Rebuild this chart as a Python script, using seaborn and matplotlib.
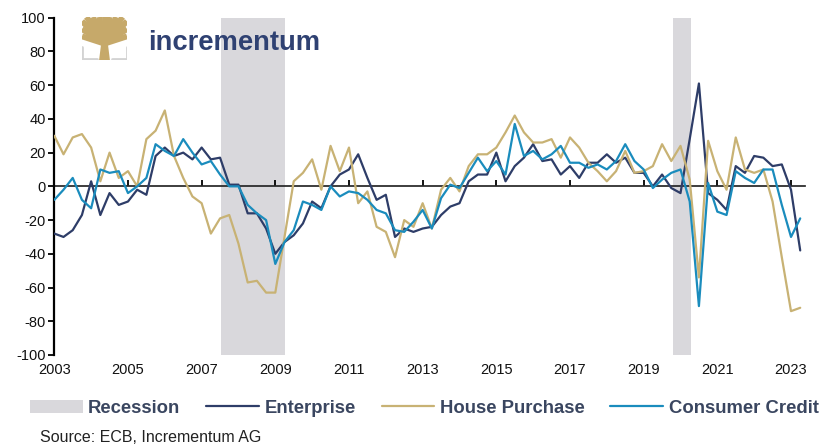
import numpy as np
import pandas as pd
import matplotlib
matplotlib.use("Agg")
import matplotlib.pyplot as plt
from matplotlib.patches import Patch, Polygon
from matplotlib.lines import Line2D
import seaborn as sns

# ECB Bank Lending Survey: net demand for loans, quarterly 2003Q1 - 2023Q2
enterprise = [-28, -30, -26, -17, 3, -17, -4, -11, -9, -2, -5, 18, 23, 18, 20, 16,
              23, 16, 17, 1, 1, -16, -16, -25, -40, -33, -29, -22, -9, -13, 0, 7,
              10, 19, 5, -8, -5, -30, -25, -27, -25, -24, -17, -12, -10, 3, 7, 7,
              20, 3, 12, 17, 25, 15, 16, 7, 12, 5, 14, 14, 19, 14, 17, 8,
              8, 0, 7, -1, -4, 28, 61, -4, -8, -14, 12, 8, 18, 17, 12, 13,
              -2, -38]
house_purchase = [30, 19, 29, 31, 23, 3, 20, 5, 9, 0, 28, 33, 45, 18, 5, -6,
                  -10, -28, -19, -17, -34, -57, -56, -63, -63, -30, 3, 8, 16, -2, 24, 9,
                  23, -10, -3, -24, -27, -42, -20, -24, -10, -25, -2, 5, -3, 12, 19, 19,
                  23, 32, 42, 32, 26, 26, 28, 17, 29, 23, 14, 9, 3, 9, 21, 8,
                  9, 12, 25, 15, 24, 4, -54, 27, 9, -2, 29, 10, 8, 10, -9, -42,
                  -74, -72]
consumer_credit = [-8, -2, 5, -8, -13, 10, 8, 9, -4, 0, 5, 25, 21, 18, 28, 20,
                   13, 15, 7, 0, 0, -11, -16, -20, -46, -33, -26, -9, -11, -14, 0, -6,
                   -3, -4, -8, -14, -16, -26, -27, -21, -14, -25, -7, 1, -1, 8, 17, 9,
                   15, 7, 37, 18, 21, 16, 19, 24, 14, 14, 11, 13, 10, 15, 25, 15,
                   10, -1, 4, 8, 10, -9, -71, 2, -15, -17, 9, 5, 2, 10, 10, -11,
                   -30, -19]

series_names = ["Enterprise", "House Purchase", "Consumer Credit"]
series_colors = ["#2e3d68", "#c8b274", "#1a8cbd"]
recessions = [(2007.53, 2009.27), (2019.8, 2020.28)]
year_ticks = list(range(2003, 2024, 2))
y_ticks = list(range(-100, 101, 20))

quarters = pd.period_range("2003Q1", periods=len(enterprise), freq="Q")
t = quarters.year + (quarters.quarter - 1) / 4

df = pd.DataFrame({"t": t, "Enterprise": enterprise,
                   "House Purchase": house_purchase,
                   "Consumer Credit": consumer_credit})
long = df.melt(id_vars="t", var_name="series", value_name="value")

sns.set_theme(style="white")
plt.rcParams["font.family"] = ["Liberation Sans", "DejaVu Sans"]
plt.rcParams["axes.unicode_minus"] = False

fig = plt.figure(figsize=(8.19, 4.47), dpi=100)
ax = fig.add_axes([54.3 / 819, 1 - 355 / 447, (805 - 54.3) / 819, (355 - 17.7) / 447])

for start, end in recessions:
    ax.axvspan(start, end, color="#d9d8dc", lw=0, zorder=0)

sns.lineplot(data=long, x="t", y="value", hue="series", hue_order=series_names,
             palette=series_colors, linewidth=1.6, legend=False, ax=ax, zorder=3)

ax.set_xlim(2003, 2023.38)
ax.set_ylim(-100, 100)
ax.set_xlabel("")
ax.set_ylabel("")
ax.set_yticks(y_ticks)
ax.set_yticklabels([str(v) for v in y_ticks])
ax.set_xticks(year_ticks)
ax.set_xticklabels([str(y) for y in year_ticks])
ax.tick_params(axis="y", direction="out", length=4, width=1.3, color="black",
               labelsize=10.5, labelcolor="#111111", pad=2, left=True)
ax.tick_params(axis="x", length=0, labelsize=10.5, labelcolor="#111111", pad=6)
for side in ["top", "right", "bottom"]:
    ax.spines[side].set_visible(False)
ax.spines["left"].set_color("black")
ax.spines["left"].set_linewidth(1.6)

# zero line carrying the year tick marks
zero_axis = ax.secondary_xaxis(0.5)
zero_axis.set_xticks(year_ticks, labels=[""] * len(year_ticks))
zero_axis.tick_params(axis="x", direction="out", length=4, width=1.3, color="black")
zero_axis.spines["bottom"].set_color("black")
zero_axis.spines["bottom"].set_linewidth(1.8)

# legend
handles = [Patch(facecolor="#d9d8dc", edgecolor="none", label="Recession")]
for name, color in zip(series_names, series_colors):
    handles.append(Line2D([], [], color=color, lw=1.6, label=name))
leg = fig.legend(handles=handles, loc="center", bbox_to_anchor=(0.518, 0.087), ncol=4,
                 frameon=False, handlelength=2.85, handletextpad=0.3, columnspacing=1.4,
                 prop={"family": "Liberation Sans", "weight": "bold", "size": 13.3})
for text in leg.get_texts():
    text.set_color("#3a4660")

fig.text(40 / 819, 1 - 438 / 447, "Source: ECB, Incrementum AG", fontsize=11.5,
         color="#222222", va="center", ha="left")

# brand mark
fig.text(148 / 819, 1 - 50 / 447, "incrementum", fontsize=19.7, fontweight="bold",
         color="#2f4172", va="baseline", ha="left")
logo = fig.add_axes([82 / 819, 1 - 60 / 447, 45 / 819, 43 / 447])
logo.set_xlim(0, 1)
logo.set_ylim(0, 1)
logo.axis("off")
gold = "#c6a96a"
logo.add_patch(Polygon([(0.38, 0.0), (0.62, 0.0), (0.57, 0.42), (0.43, 0.42)],
                       closed=True, color=gold, lw=0))
base = (0.5, 0.38)
tips = [(0.0, 0.55), (0.0, 0.72), (0.0, 0.9), (0.1, 1.0), (0.24, 1.0), (0.38, 1.0),
        (0.5, 1.0), (0.62, 1.0), (0.76, 1.0), (0.9, 1.0), (1.0, 0.9), (1.0, 0.72),
        (1.0, 0.55)]
for tx, ty in tips:
    logo.plot([base[0], tx], [base[1], ty], color=gold, lw=4.2, solid_capstyle="butt")
gray = "#d3d3d3"
logo.plot([0.01, 0.01, 0.33], [0.30, 0.02, 0.02], color=gray, lw=2)
logo.plot([0.99, 0.99, 0.67], [0.30, 0.02, 0.02], color=gray, lw=2)

fig.savefig("out.png", dpi=100)
